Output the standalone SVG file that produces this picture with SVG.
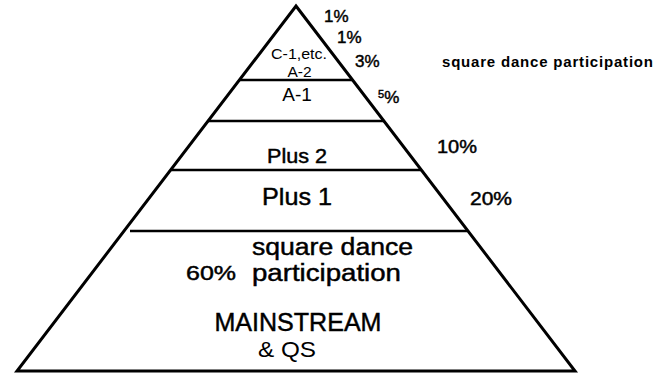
<svg xmlns="http://www.w3.org/2000/svg" width="668" height="373" viewBox="0 0 668 373">
<style>
text{font-family:"Liberation Sans",Arial,Helvetica,sans-serif;fill:#000}
.m{stroke:#000;stroke-width:0.45}
.c{text-anchor:middle}
.edge{fill:none;stroke:#000;stroke-width:3;stroke-linejoin:miter}
.div{stroke:#000;stroke-width:2.7}
</style>
<rect width="668" height="373" fill="#fff"/>
<g id="pyramid">
<polygon class="edge" points="296,6 575,371 17,371"/>
</g>
<g id="dividers">
<line class="div" x1="239" y1="80" x2="353" y2="80"/>
<line class="div" x1="208" y1="121" x2="384" y2="121"/>
<line class="div" x1="171" y1="170" x2="421" y2="170"/>
<line class="div" x1="130" y1="231" x2="467" y2="231"/>
</g>
<g id="tier-c1">
<text class="c" x="299" y="59" font-size="15" textLength="56" lengthAdjust="spacingAndGlyphs">C-1,etc.</text>
<text class="c" x="299.5" y="77" font-size="15.5">A-2</text>
<text x="324" y="22" font-size="17" class="m">1%</text>
<text x="337" y="43" font-size="17" class="m">1%</text>
<text x="355" y="67" font-size="17" class="m">3%</text>
</g>
<g id="tier-a1">
<text class="c" x="297" y="101" font-size="19">A-1</text>
<text x="378" y="103" font-size="17" class="m"><tspan font-size="11" dy="-5">5</tspan><tspan dy="5">%</tspan></text>
</g>
<g id="tier-plus2">
<text class="c m" x="297" y="163" font-size="20" textLength="60" lengthAdjust="spacingAndGlyphs">Plus 2</text>
<text x="437" y="153" font-size="18" class="m" textLength="40" lengthAdjust="spacingAndGlyphs">10%</text>
</g>
<g id="tier-plus1">
<text class="c m" x="297" y="205" font-size="24" textLength="70" lengthAdjust="spacingAndGlyphs">Plus 1</text>
<text x="470" y="205" font-size="18" class="m" textLength="42" lengthAdjust="spacingAndGlyphs">20%</text>
</g>
<g id="legend">
<text x="442" y="67" font-size="15" font-weight="bold" textLength="211" lengthAdjust="spacing">square dance participation</text>
</g>
<g id="tier-mainstream">
<text x="252" y="255" font-size="23" class="m" textLength="161" lengthAdjust="spacingAndGlyphs">square dance</text>
<text x="252" y="281" font-size="23" class="m" textLength="149" lengthAdjust="spacingAndGlyphs">participation</text>
<text x="186" y="280" font-size="20" class="m" textLength="50" lengthAdjust="spacingAndGlyphs">60%</text>
<text class="c m" x="298" y="331" font-size="25" textLength="167" lengthAdjust="spacingAndGlyphs">MAINSTREAM</text>
<text x="258" y="357" font-size="22" textLength="58" lengthAdjust="spacingAndGlyphs">&amp; QS</text>
</g>
</svg>
